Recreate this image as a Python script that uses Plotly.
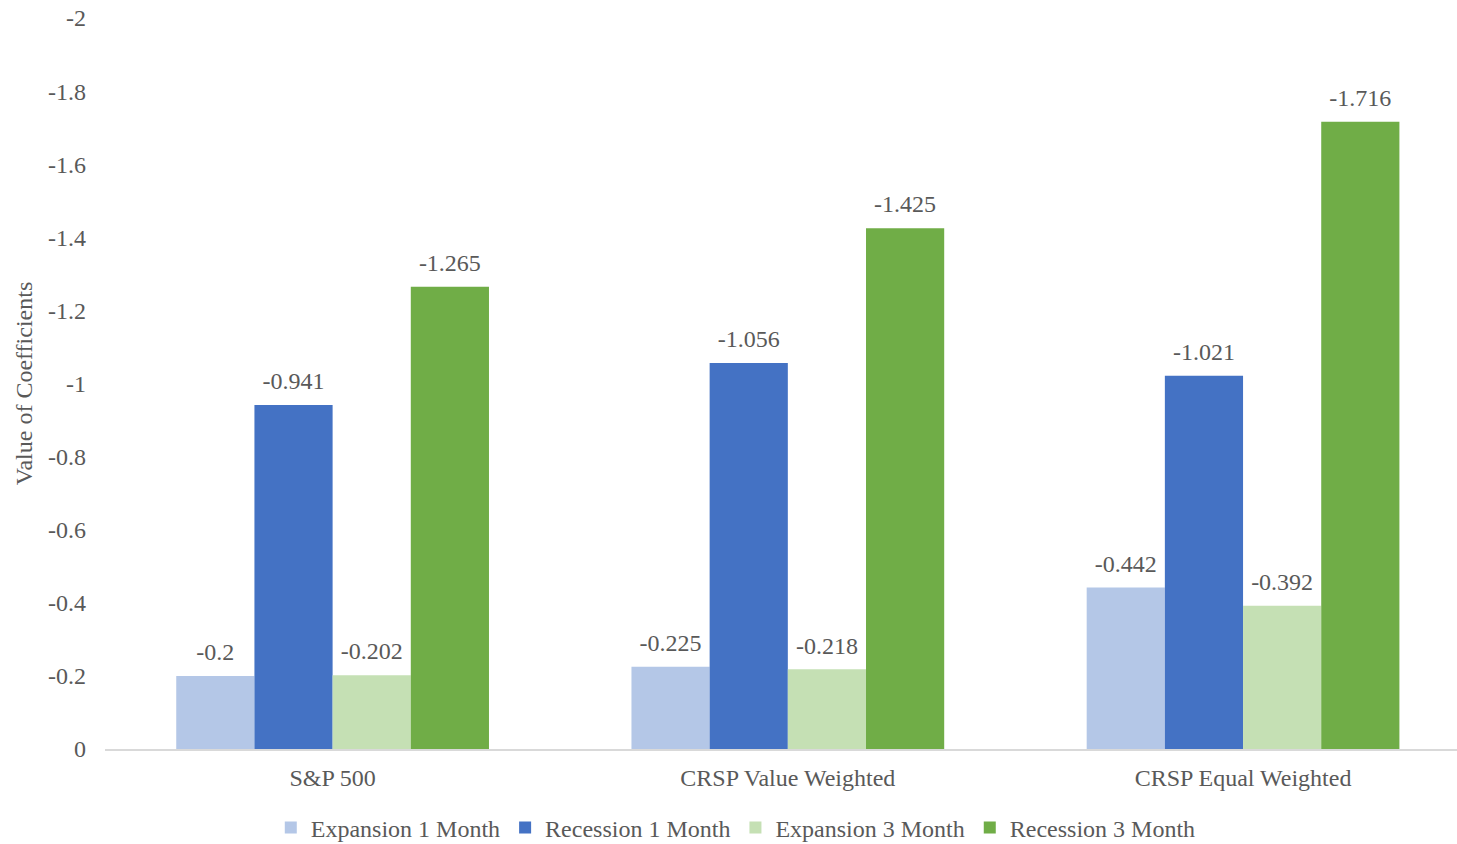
import plotly.graph_objects as go

categories = ["S&P 500", "CRSP Value Weighted", "CRSP Equal Weighted"]
series_names = ["Expansion 1 Month", "Recession 1 Month", "Expansion 3 Month", "Recession 3 Month"]
expansion_1m = [-0.2, -0.225, -0.442]
recession_1m = [-0.941, -1.056, -1.021]
expansion_3m = [-0.202, -0.218, -0.392]
recession_3m = [-1.265, -1.425, -1.716]
tick_vals = [0, -0.2, -0.4, -0.6, -0.8, -1, -1.2, -1.4, -1.6, -1.8, -2]
tick_text = ["0", "-0.2", "-0.4", "-0.6", "-0.8", "-1", "-1.2", "-1.4", "-1.6", "-1.8", "-2"]

colors = ["#B4C7E7", "#4472C4", "#C5E0B4", "#70AD47"]
series = [expansion_1m, recession_1m, expansion_3m, recession_3m]
FONT = "Liberation Serif, Times New Roman, serif"
GRAY = "#595959"
FS = 24

fig = go.Figure()
for i, (name, vals, col) in enumerate(zip(series_names, series, colors)):
    fig.add_trace(go.Bar(
        x=categories, y=vals, name=name,
        marker=dict(color=col, line=dict(width=0)),
        offsetgroup=str(i),
    ))
for i, vals in enumerate(series):
    fig.add_trace(go.Scatter(
        x=categories, y=vals, mode="markers+text",
        marker=dict(size=14, opacity=0),
        text=[str(v) for v in vals],
        textposition="top center",
        textfont=dict(family=FONT, size=FS, color=GRAY),
        offsetgroup=str(i), showlegend=False, hoverinfo="skip",
        cliponaxis=False,
    ))

fig.update_layout(
    width=1457, height=844,
    margin=dict(l=105, r=0, t=18, b=95),
    paper_bgcolor="white", plot_bgcolor="white",
    barmode="group", bargap=0.313, bargroupgap=0,
    scattermode="group", scattergap=0.313,
    font=dict(family=FONT, size=FS, color=GRAY),
    legend=dict(orientation="h", xref="container", yref="container",
                x=0.505, xanchor="center", y=0.019, yanchor="middle",
                font=dict(family=FONT, size=FS, color=GRAY),
                itemwidth=30, tracegroupgap=0),
    showlegend=True,
)
fig.update_xaxes(range=[-0.5, 2.47], showline=True, linecolor="#D9D9D9", linewidth=2,
                 tickfont=dict(family=FONT, size=FS, color=GRAY),
                 ticklabelstandoff=6,
                 ticks="", showgrid=False)
fig.update_yaxes(range=[0, -2], tickvals=tick_vals, ticktext=tick_text,
                 showgrid=False, zeroline=False, showline=False,
                 ticklabelstandoff=18,
                 tickfont=dict(family=FONT, size=FS, color=GRAY),
                 title=dict(text="Value of Coefficients", standoff=8,
                            font=dict(family=FONT, size=FS, color=GRAY)))

fig.write_html("out.html")
